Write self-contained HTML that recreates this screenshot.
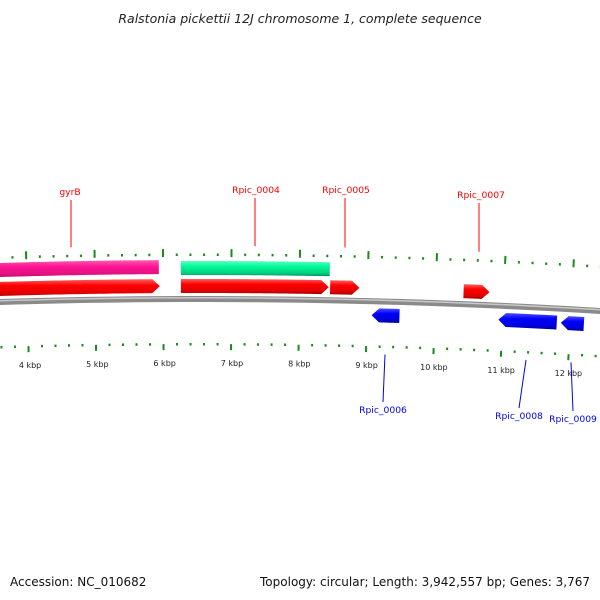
<!DOCTYPE html>
<html><head><meta charset="utf-8"><style>
body{margin:0;background:#fff;}
svg{display:block;font-family:"DejaVu Sans","Liberation Sans",sans-serif;}
</style></head><body>
<svg id="map" width="600" height="600" viewBox="0 0 600 600" xmlns="http://www.w3.org/2000/svg">
<defs>
<linearGradient id="gPink" x1="0" y1="0" x2="0" y2="1"><stop offset="0" stop-color="#ff5fb0"/><stop offset="0.35" stop-color="#ff1493"/><stop offset="0.8" stop-color="#e0107f"/><stop offset="1" stop-color="#a00c5c"/></linearGradient>
<linearGradient id="gGreen" x1="0" y1="0" x2="0" y2="1"><stop offset="0" stop-color="#60ffc0"/><stop offset="0.35" stop-color="#00fa9a"/><stop offset="0.8" stop-color="#00d080"/><stop offset="1" stop-color="#00905a"/></linearGradient>
<linearGradient id="gRed" x1="0" y1="0" x2="0" y2="1"><stop offset="0" stop-color="#ff6060"/><stop offset="0.35" stop-color="#ff0000"/><stop offset="0.8" stop-color="#e00000"/><stop offset="1" stop-color="#a00000"/></linearGradient>
<linearGradient id="gBlue" x1="0" y1="0" x2="0" y2="1"><stop offset="0" stop-color="#5050ff"/><stop offset="0.35" stop-color="#0000ff"/><stop offset="0.8" stop-color="#0000d8"/><stop offset="1" stop-color="#000090"/></linearGradient>
</defs>
<text x="300" y="23" text-anchor="middle" font-size="12.5" font-style="italic" fill="#222">Ralstonia pickettii 12J chromosome 1, complete sequence</text>
<g id="layer"></g>
<text x="10" y="586" font-size="12" fill="#111">Accession: NC_010682</text>
<text x="590" y="586" text-anchor="end" font-size="12" fill="#111" textLength="330">Topology: circular; Length: 3,942,557 bp; Genes: 3,767</text>
</svg>
<script>
// data
const featureNames = ["gyrB-cds","gyrB-gene","Rpic_0004-cds","Rpic_0004-gene","Rpic_0005","Rpic_0007","Rpic_0006","Rpic_0008","Rpic_0009"];
const featureStarts = [3000, 3000, 6260, 6260, 8450, 10410, 9070, 10940, 11860];
const featureEnds   = [5937, 5950, 8440, 8430, 8880, 10790, 9480, 11800, 12200];
const featureStrand = [1, 1, 1, 1, 1, 1, -1, -1, -1];
const featureKind   = ["pink","red","green","red","red","red","blue","blue","blue"];
const tickLabels = ["4 kbp","5 kbp","6 kbp","7 kbp","8 kbp","9 kbp","10 kbp","11 kbp","12 kbp"];
const tickValues = [4000,5000,6000,7000,8000,9000,10000,11000,12000];
const labelTexts = ["gyrB","Rpic_0004","Rpic_0005","Rpic_0007","Rpic_0006","Rpic_0008","Rpic_0009"];
const labelFeature = [1,3,4,5,6,7,8];

const R=6700, CX=200, CY=299+R, BP0=6540, PX=0.068;
function pt(bp,dr){const t=(bp-BP0)*PX/R, r=R+dr;return [CX+r*Math.sin(t), CY-r*Math.cos(t)];}
function yAt(x,dr){const r=R+dr;return CY-Math.sqrt(r*r-(x-CX)*(x-CX));}
const NS="http://www.w3.org/2000/svg", layer=document.getElementById('layer');
function mk(tag,attrs){const e=document.createElementNS(NS,tag);for(const k in attrs)e.setAttribute(k,attrs[k]);layer.appendChild(e);return e;}
function arcPts(a,b,dr){const p=[];const n=40;for(let i=0;i<=n;i++)p.push(pt(a+(b-a)*i/n,dr));return p;}
const fmt=p=>p.map(q=>q[0].toFixed(2)+','+q[1].toFixed(2)).join(' ');

// backbone
const bb=mk('polyline',{points:fmt(arcPts(0,14000,0)),fill:'none',stroke:'#8a8a8a','stroke-width':6});


const bb2=mk('polyline',{points:fmt(arcPts(0,14000,1.2)),fill:'none',stroke:'#c8c8c8','stroke-width':1.5});



// ticks
for(let bp=3000;bp<=13200;bp+=200){
  const major=bp%1000===0;
  [[43,1],[-44,-1]].forEach(([base,dir])=>{
    const p1=pt(bp,base+(major?-1:0)), p2=pt(bp,base+dir*(major?7:2.5));
    const t=mk('line',{x1:p1[0],y1:p1[1],x2:p2[0],y2:p2[1],stroke:'#1a8a1a','stroke-width':2});
    
    
  });
}
tickValues.forEach((v,i)=>{
  const p=pt(v,-67);
  const t=mk('text',{x:p[0]+1,y:p[1],'text-anchor':'middle','font-size':8,fill:'#222'});
  t.textContent=tickLabels[i];
  
  
});

// features
const kindStyle={pink:{fill:'url(#gPink)',r1:25,r2:39},green:{fill:'url(#gGreen)',r1:24,r2:38},red:{fill:'url(#gRed)',r1:6,r2:20},blue:{fill:'url(#gBlue)',r1:-21,r2:-7}};
featureNames.forEach((nm,i)=>{
  const s=kindStyle[featureKind[i]], a=featureStarts[i], b=featureEnds[i], st=featureStrand[i];
  const arrow=featureKind[i]!=='pink'&&featureKind[i]!=='green';
  const head=arrow?110:0, mid=(s.r1+s.r2)/2;
  let pts;
  if(st>0){
    pts=arcPts(a,b-head,s.r2).concat(arrow?[pt(b,mid)]:[]).concat(arcPts(a,b-head,s.r1).reverse());
  }else{
    pts=arcPts(a+head,b,s.r2).concat(arcPts(a+head,b,s.r1).reverse()).concat(arrow?[pt(a,mid)]:[]);
  }
  const e=mk('polygon',{points:fmt(pts),fill:s.fill});
  
  
});

// labels
const labelPos=[[70,195],[256,193],[346,193],[481,198],[383,413],[519,419],[573,422]];
const lineFoot=[71,255,345,479,385,526,571];
labelTexts.forEach((txt,i)=>{
  const f=labelFeature[i], st=featureStrand[f];
  const [lx,ly]=labelPos[i];
  const fx=lineFoot[i];
  const fy=yAt(fx,st>0?53:-53);
  const col=st>0?'#ff0000':'#0000ee';
  const l=mk('line',{x1:fx,y1:fy,x2:st>0?fx:lx,y2:st>0?ly+5:ly-11,stroke:col,'stroke-width':1});
  
  
  const t=mk('text',{x:lx,y:ly,'text-anchor':'middle','font-size':9.2,fill:col});
  t.textContent=txt;
  
  
});
</script>
</body></html>
